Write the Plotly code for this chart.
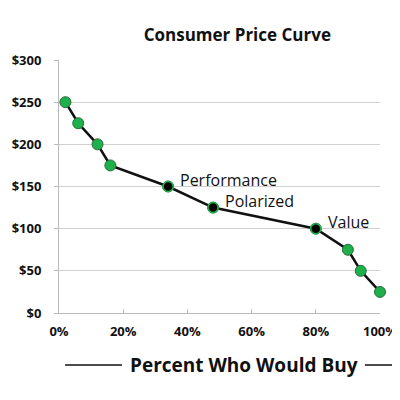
import plotly.graph_objects as go

# share of buyers (fraction) and price
pct_buy = [0.02, 0.06, 0.12, 0.16, 0.34, 0.48, 0.80, 0.90, 0.94, 1.00]
price = [250, 225, 200, 175, 150, 125, 100, 75, 50, 25]

seg_names = ['Performance', 'Polarized', 'Value']
seg_pct = [0.34, 0.48, 0.80]
seg_price = [150, 125, 100]

GREEN = '#1db04b'
GRID = '#d0d0d0'

fig = go.Figure()
fig.add_trace(go.Scatter(
    x=pct_buy, y=price,
    mode='lines+markers',
    line=dict(color='#111111', width=2.5),
    marker=dict(color=GREEN, size=11, line=dict(color='#2a6b3a', width=1)),
    cliponaxis=False,
    hoverinfo='x+y',
))
fig.add_trace(go.Scatter(
    x=seg_pct, y=seg_price,
    mode='markers',
    marker=dict(color='#000000', size=10, line=dict(color=GREEN, width=1.5)),
    cliponaxis=False,
))

for name, px, py in zip(seg_names, seg_pct, seg_price):
    fig.add_annotation(
        x=px, y=py, text=name, showarrow=False,
        xanchor='left', yanchor='middle', xshift=10, yshift=7,
        font=dict(family='Open Sans, sans-serif', size=16, color='#111111'),
    )

# x-axis title sits right of centre, with a rule on either side
fig.add_annotation(
    x=0.576, y=-0.2055, xref='paper', yref='paper',
    text='<b>Percent Who Would Buy</b>', showarrow=False,
    xanchor='center', yanchor='middle',
    font=dict(family='Open Sans, sans-serif', size=19, color='#111111'),
)
for x0, x1 in [(0.019, 0.196), (0.953, 1.06)]:
    fig.add_shape(type='line', xref='paper', yref='paper',
                  x0=x0, x1=x1, y0=-0.2055, y1=-0.2055,
                  line=dict(color='#111111', width=1.5))

# body has an 8px margin in the page, so the figure is 392 wide/high
fig.update_layout(
    width=392, height=392,
    margin=dict(l=51, r=20, t=52, b=87),
    paper_bgcolor='white', plot_bgcolor='white',
    showlegend=False,
    font=dict(family='Open Sans, sans-serif', color='#111111'),
    title=dict(
        text='<b>Consumer Price Curve</b>',
        x=0.585, xanchor='center', y=0.931, yanchor='middle',
        font=dict(size=17),
    ),
    xaxis=dict(
        range=[0, 1.0], tickformat='.0%', dtick=0.2,
        showgrid=False, showline=True, linecolor='#bbbbbb', linewidth=1,
        ticks='inside', ticklen=4, tickcolor='#bbbbbb',
        tickfont=dict(size=13, weight='bold'),
        ticklabelstandoff=6,
        zeroline=False, automargin=False,
    ),
    yaxis=dict(
        range=[0, 300], dtick=50, tickprefix='$',
        showgrid=True, gridcolor=GRID, gridwidth=1,
        showline=True, linecolor='#bbbbbb', linewidth=1,
        ticks='outside', ticklen=4, tickcolor='#bbbbbb',
        tickfont=dict(size=13, weight='bold'),
        ticklabelstandoff=10,
        zeroline=False, automargin=False,
    ),
)

fig.write_html('out.html')
